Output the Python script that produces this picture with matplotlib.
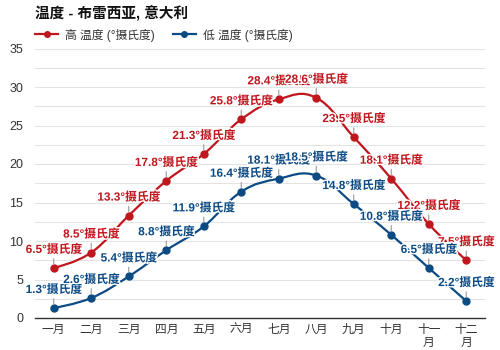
import matplotlib
matplotlib.use("Agg")
import matplotlib.pyplot as plt
from matplotlib.path import Path
from matplotlib.patches import PathPatch
from matplotlib.lines import Line2D
import matplotlib.patheffects as pe
import numpy as np

plt.rcParams['font.family'] = ['Liberation Sans', 'Noto Sans CJK SC', 'DejaVu Sans']

months = ['一月', '二月', '三月', '四月', '五月', '六月', '七月', '八月', '九月', '十月', '十一\n月', '十二\n月']
high = [6.5, 8.5, 13.3, 17.8, 21.3, 25.8, 28.4, 28.6, 23.5, 18.1, 12.2, 7.5]
low = [1.3, 2.6, 5.4, 8.8, 11.9, 16.4, 18.1, 18.5, 14.8, 10.8, 6.5, 2.2]
title = '温度 - 布雷西亚, 意大利'
series_names = ['高 温度 (°摄氏度)', '低 温度 (°摄氏度)']
unit = '°摄氏度'

RED = '#c0161d'
BLUE = '#0c4a84'


def spline_path(xs, ys, smoothing=1.5):
    n = len(xs)
    denom = smoothing + 1
    lc = [None] * n
    rc = [None] * n
    for i in range(n):
        px, py = xs[i], ys[i]
        if 0 < i < n - 1:
            lx, ly = xs[i - 1], ys[i - 1]
            nx, ny = xs[i + 1], ys[i + 1]
            lcx = (smoothing * px + lx) / denom
            lcy = (smoothing * py + ly) / denom
            rcx = (smoothing * px + nx) / denom
            rcy = (smoothing * py + ny) / denom
            if rcx != lcx:
                corr = ((rcy - lcy) * (rcx - px)) / (rcx - lcx) + py - rcy
                lcy += corr
                rcy += corr
            lc[i] = (lcx, lcy)
            rc[i] = (rcx, rcy)
        else:
            lc[i] = (px, py)
            rc[i] = (px, py)
    verts = [(xs[0], ys[0])]
    codes = [Path.MOVETO]
    for i in range(1, n):
        verts += [rc[i - 1], lc[i], (xs[i], ys[i])]
        codes += [Path.CURVE4] * 3
    return Path(verts, codes)


fig = plt.figure(figsize=(5, 3.5), dpi=100)
ax = fig.add_axes([35 / 500, 1 - 318 / 350, 450 / 500, (318 - 48.5) / 350])

x = np.arange(len(months))
for vals, col in [(high, RED), (low, BLUE)]:
    ax.add_patch(PathPatch(spline_path(x, vals), fill=False, edgecolor=col, lw=1.6, zorder=3))
    ax.plot(x, vals, 'o', color=col, ms=5, zorder=4)

for vals, col in [(high, RED), (low, BLUE)]:
    for xi, v in zip(x, vals):
        ax.annotate(f'{v}{unit}', xy=(xi, v), xytext=(0, 18), textcoords='offset pixels',
                    ha='center', va='center', fontsize=8.5, fontweight='bold', color=col,
                    annotation_clip=False, zorder=5,
                    path_effects=[pe.withStroke(linewidth=2, foreground='white')],
                    arrowprops=dict(arrowstyle='-', color='#999999', lw=0.8, shrinkA=0, shrinkB=3))

ax.set_xlim(-0.5, len(months) - 0.5)
ax.set_ylim(0, 35)
ax.set_xticks(x)
ax.set_xticklabels(months, fontsize=8.5, color='#333333', linespacing=1.1)
ax.set_yticks(np.arange(0, 36, 5))
ax.set_yticks(np.arange(2.5, 35, 5), minor=True)
ax.tick_params(axis='y', which='both', length=0, labelsize=9, labelcolor='#333333', pad=8.5)
ax.tick_params(axis='x', length=0, pad=4)
ax.grid(axis='y', which='both', color='#e3e3e3', lw=0.8)
ax.set_axisbelow(True)
for s in ['top', 'right', 'left']:
    ax.spines[s].set_visible(False)
ax.spines['bottom'].set_color('#333333')
ax.spines['bottom'].set_linewidth(1.0)

fig.text(35 / 500, 1 - 14 / 350, title, fontsize=10.5, fontweight='bold', va='center', ha='left', color='#111111')

handles = [Line2D([], [], color=RED, lw=1.6, marker='o', ms=4),
           Line2D([], [], color=BLUE, lw=1.6, marker='o', ms=4)]
fig.legend(handles, series_names, loc='center left', bbox_to_anchor=(35 / 500, 1 - 35 / 350),
           ncol=2, frameon=False, fontsize=8.5, handlelength=1.95, handletextpad=0.6,
           columnspacing=1.5, borderaxespad=0, borderpad=0, labelcolor='#333333')

fig.savefig('out.png', dpi=100)
